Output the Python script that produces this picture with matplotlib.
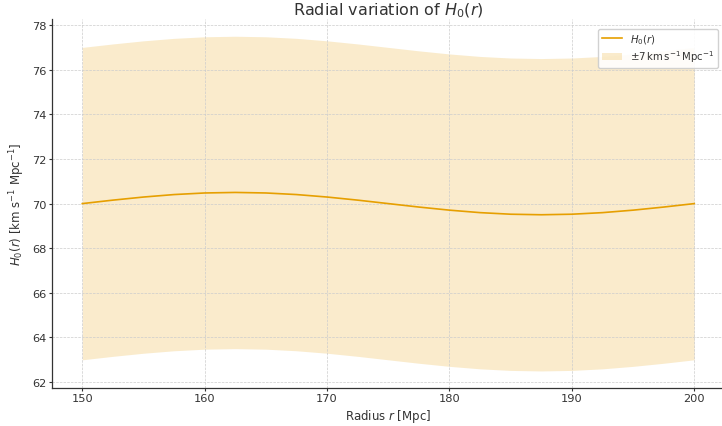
import numpy as np
import matplotlib
matplotlib.use("Agg")
import matplotlib.pyplot as plt

# radius grid [Mpc] and H0
radius = [150.0, 152.5, 155.0, 157.5, 160.0, 162.5, 165.0, 167.5, 170.0, 172.5,
          175.0, 177.5, 180.0, 182.5, 185.0, 187.5, 190.0, 192.5, 195.0, 197.5, 200.0]
h0 = [70.00, 70.155, 70.294, 70.405, 70.476, 70.50, 70.476, 70.405, 70.294, 70.155,
      70.00, 69.845, 69.706, 69.595, 69.524, 69.50, 69.524, 69.595, 69.706, 69.845, 70.00]
band_halfwidth = 7.0

color = "#E69F00"
text_color = "#333333"

r = np.array(radius)
h = np.array(h0)

plt.rcParams["text.color"] = text_color
plt.rcParams["axes.labelcolor"] = text_color
plt.rcParams["xtick.color"] = text_color
plt.rcParams["ytick.color"] = text_color

fig, ax = plt.subplots(figsize=(7.22, 4.27), dpi=100)
fig.subplots_adjust(left=0.0716, right=1.004, bottom=0.0897, top=0.952)

ax.fill_between(r, h - band_halfwidth, h + band_halfwidth, color=color, alpha=0.2,
                linewidth=0, label=r"$\pm 7\,\mathrm{km\,s^{-1}\,Mpc^{-1}}$")
ax.plot(r, h, color=color, linewidth=1.2, label=r"$H_0(r)$")

ax.set_title(r"Radial variation of $H_0(r)$", fontsize=11.5, pad=4)
ax.set_xlabel(r"Radius $r$ [Mpc]", fontsize=8.5, labelpad=3)
ax.set_ylabel(r"$H_0(r)$ [km s$^{-1}$ Mpc$^{-1}$]", fontsize=8.5, labelpad=3)
ax.tick_params(labelsize=8.2, length=2, pad=2, width=0.8)

ax.grid(True, linestyle="--", linewidth=0.5, color="#cccccc")
ax.spines["top"].set_visible(False)
ax.spines["right"].set_visible(False)
for side in ("left", "bottom"):
    ax.spines[side].set_linewidth(0.9)
    ax.spines[side].set_color("#333333")

handles, labels = ax.get_legend_handles_labels()
ax.legend(handles[::-1], labels[::-1], loc="upper right", fontsize=7.3, framealpha=0.9,
          bbox_to_anchor=(0.997, 0.989), labelspacing=0.25, borderpad=0.35)

fig.savefig("out.png", dpi=100)
